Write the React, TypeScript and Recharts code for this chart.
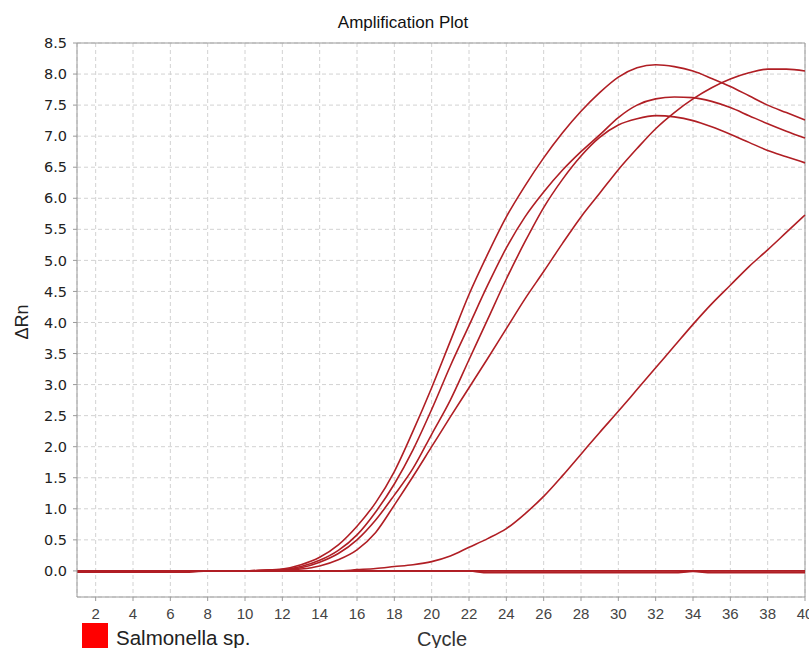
import { LineChart, Line, XAxis, YAxis, CartesianGrid, ReferenceLine } from "recharts";

// cycle numbers on the x axis
const cycles = [1, 2, 3, 4, 5, 6, 7, 8, 9, 10, 11, 12, 13, 14, 15, 16, 17, 18, 19, 20,
  21, 22, 23, 24, 25, 26, 27, 28, 29, 30, 31, 32, 33, 34, 35, 36, 37, 38, 39, 40];

// positive samples (ΔRn per cycle)
const wellA = [0, 0, 0, 0, 0, 0, 0, 0, 0, 0, 0.01, 0.03, 0.1, 0.22, 0.42, 0.72, 1.1, 1.6, 2.25, 2.95,
  3.7, 4.45, 5.1, 5.7, 6.2, 6.65, 7.05, 7.4, 7.7, 7.95, 8.1, 8.15, 8.12, 8.05, 7.93, 7.8, 7.65, 7.5, 7.38, 7.26];
const wellB = [0, 0, 0, 0, 0, 0, 0, 0, 0, 0, 0.01, 0.02, 0.07, 0.17, 0.33, 0.58, 0.95, 1.4, 1.95, 2.6,
  3.3, 3.95, 4.6, 5.2, 5.7, 6.1, 6.45, 6.75, 7.02, 7.3, 7.5, 7.6, 7.63, 7.62, 7.56, 7.46, 7.33, 7.2, 7.08, 6.97];
const wellC = [0, 0, 0, 0, 0, 0, 0, 0, 0, 0, 0.01, 0.02, 0.05, 0.14, 0.28, 0.5, 0.82, 1.22, 1.65, 2.2,
  2.75, 3.4, 4.05, 4.7, 5.3, 5.85, 6.3, 6.68, 6.98, 7.18, 7.28, 7.33, 7.31, 7.25, 7.15, 7.03, 6.9, 6.77, 6.67, 6.57];
const wellD = [0, 0, 0, 0, 0, 0, 0, 0, 0, 0, 0, 0.01, 0.03, 0.08, 0.18, 0.34, 0.62, 1.06, 1.52, 2.0,
  2.48, 2.95, 3.42, 3.9, 4.38, 4.82, 5.27, 5.7, 6.08, 6.46, 6.8, 7.12, 7.38, 7.6, 7.78, 7.92, 8.02, 8.08, 8.08, 8.05];
const wellE = [0, 0, 0, 0, 0, 0, 0, 0, 0, 0, 0, 0, 0, 0, 0, 0.02, 0.04, 0.07, 0.1, 0.15,
  0.24, 0.38, 0.52, 0.68, 0.92, 1.2, 1.53, 1.88, 2.23, 2.57, 2.92, 3.27, 3.62, 3.97, 4.3, 4.6, 4.9, 5.17, 5.45, 5.73];

// negative wells, flat near zero
const negA = [-0.02, -0.02, -0.02, -0.02, -0.02, -0.02, -0.02, 0, 0, 0, 0, 0, 0, 0, 0, 0, 0, 0, 0, 0,
  0, 0, -0.02, -0.02, -0.02, -0.02, -0.02, -0.02, -0.02, -0.02, -0.02, -0.02, -0.02, 0, -0.02, -0.02, -0.02, -0.02, -0.02, -0.02];
const negB = [-0.01, -0.01, -0.01, -0.01, -0.01, -0.01, 0, 0, 0, 0, 0, 0, 0, 0, 0, 0, 0, 0, 0, 0,
  0, 0, -0.03, -0.03, -0.03, -0.03, -0.03, -0.03, -0.03, -0.03, -0.03, -0.03, -0.03, -0.01, -0.03, -0.03, -0.03, -0.03, -0.03, -0.03];
const negC = [0, 0, 0, 0, 0, 0, 0, 0, 0, 0, 0, 0, 0, 0, 0, 0, 0, 0, 0, 0,
  0, 0, 0, 0, 0, 0, 0, 0, 0, 0, 0, 0, 0, 0, 0, 0, 0, 0, 0, 0];

const xTicks = [2, 4, 6, 8, 10, 12, 14, 16, 18, 20, 22, 24, 26, 28, 30, 32, 34, 36, 38, 40];
const yTicks = [0, 0.5, 1, 1.5, 2, 2.5, 3, 3.5, 4, 4.5, 5, 5.5, 6, 6.5, 7, 7.5, 8, 8.5];

const seriesKeys = ["wellA", "wellB", "wellC", "wellD", "wellE", "negA", "negB", "negC"];

const rows = cycles.map((c, i) => ({
  cycle: c,
  wellA: wellA[i],
  wellB: wellB[i],
  wellC: wellC[i],
  wellD: wellD[i],
  wellE: wellE[i],
  negA: negA[i],
  negB: negB[i],
  negC: negC[i],
}));

const LINE_COLOR = "#b01e24";
const AXIS_COLOR = "#9a9a9a";

export default function App() {
  return (
    <div
      style={{
        position: "absolute",
        left: 0,
        top: 0,
        width: 809,
        height: 648,
        background: "#fff",
        overflow: "hidden",
        fontFamily: "'Liberation Sans', Arial, sans-serif",
      }}
    >
      <LineChart width={809} height={648} data={rows} margin={{ top: 43, right: 4, bottom: 0, left: 0 }}>
        <CartesianGrid strokeDasharray="4 3" stroke="#d2d2d2" />
        <XAxis
          dataKey="cycle"
          type="number"
          domain={[1, 40]}
          ticks={xTicks}
          height={51}
          tickSize={4}
          tickMargin={7}
          interval={0}
          stroke={AXIS_COLOR}
          tick={{ fontSize: 15, fill: "#444", fontFamily: "'Liberation Sans Narrow', 'Liberation Sans', sans-serif" }}
        />
        <YAxis
          type="number"
          domain={[-0.42, 8.5]}
          allowDataOverflow
          ticks={yTicks}
          width={77}
          tickSize={4}
          tickMargin={6}
          interval={0}
          stroke={AXIS_COLOR}
          tickFormatter={(v: number) => v.toFixed(1)}
          tick={{ fontSize: 14.5, fill: "#222", fontFamily: "'DejaVu Sans', sans-serif" }}
        />
        <ReferenceLine y={8.5} stroke={AXIS_COLOR} />
        <ReferenceLine x={40} stroke={AXIS_COLOR} />
        {seriesKeys.map((k) => (
          <Line
            key={k}
            type="monotone"
            dataKey={k}
            stroke={LINE_COLOR}
            strokeWidth={1.6}
            dot={false}
            isAnimationActive={false}
          />
        ))}
      </LineChart>
      <svg
        width={809}
        height={648}
        style={{ position: "absolute", left: 0, top: 0, pointerEvents: "none" }}
      >
        <text x={403} y={28} textAnchor="middle" fontSize={17} fill="#111">
          Amplification Plot
        </text>
        <text transform="translate(28,322) rotate(-90)" textAnchor="middle" fontSize={18} fill="#222">
          ΔRn
        </text>
        <text x={417} y={646} fontSize={20} fill="#333">
          Cycle
        </text>
        <rect x={82} y={623} width={26} height={27} fill="#ff0000" />
        <text x={116} y={645} fontSize={20.5} fill="#222">
          Salmonella sp.
        </text>
      </svg>
    </div>
  );
}
